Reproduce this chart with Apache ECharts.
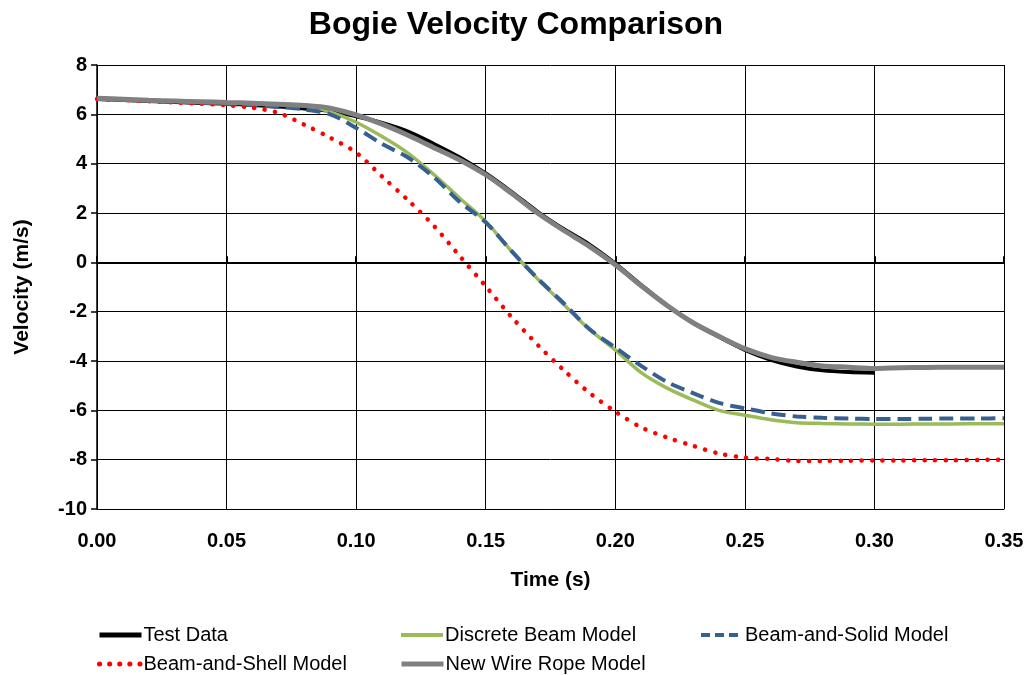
<!DOCTYPE html>
<html>
<head>
<meta charset="utf-8">
<script src="https://cdn.jsdelivr.net/npm/echarts@6/dist/echarts.min.js"></script>
<style>
  html, body { margin: 0; padding: 0; background: #fff; }
  #chart { width: 1032px; height: 675px; }
</style>
</head>
<body>
<div id="chart"></div>
<script>
// time (s)
var times = [0.00, 0.01, 0.02, 0.03, 0.04, 0.05, 0.06, 0.07, 0.08, 0.09,
             0.10, 0.11, 0.12, 0.13, 0.14, 0.15, 0.16, 0.17, 0.18, 0.19,
             0.20, 0.21, 0.22, 0.23, 0.24, 0.25, 0.26, 0.27, 0.28, 0.29,
             0.30, 0.31, 0.32, 0.33, 0.34, 0.35];

// velocity (m/s)
var testData = [6.62, 6.58, 6.54, 6.50, 6.46, 6.43, 6.38, 6.32, 6.24, 6.14,
                5.92, 5.65, 5.30, 4.80, 4.25, 3.60, 2.85, 2.05, 1.35, 0.72,
                -0.05, -0.92, -1.75, -2.45, -3.02, -3.55, -3.95, -4.22, -4.38, -4.45,
                -4.48];
var discreteBeam = [6.62, 6.60, 6.57, 6.54, 6.50, 6.47, 6.44, 6.40, 6.35, 6.10,
                    5.68, 5.10, 4.43, 3.56, 2.60, 1.66, 0.45, -0.67, -1.70, -2.72,
                    -3.55, -4.47, -5.10, -5.58, -6.00, -6.20, -6.38, -6.50, -6.53, -6.55,
                    -6.56, -6.56, -6.55, -6.55, -6.54, -6.54];
var beamSolid = [6.62, 6.59, 6.56, 6.52, 6.47, 6.42, 6.37, 6.30, 6.20, 6.00,
                 5.45, 4.80, 4.25, 3.45, 2.45, 1.62, 0.45, -0.65, -1.65, -2.70,
                 -3.45, -4.20, -4.85, -5.30, -5.70, -5.92, -6.12, -6.25, -6.30, -6.33,
                 -6.35, -6.35, -6.34, -6.33, -6.33, -6.32];
var beamShell = [6.62, 6.58, 6.53, 6.48, 6.43, 6.37, 6.27, 6.06, 5.58, 5.05,
                 4.45, 3.48, 2.52, 1.48, 0.25, -0.97, -2.22, -3.34, -4.36, -5.29,
                 -6.05, -6.69, -7.10, -7.44, -7.75, -7.92, -7.97, -8.05, -8.05, -8.04,
                 -8.03, -8.03, -8.02, -8.02, -8.01, -8.00];
var newWireRope = [6.65, 6.61, 6.57, 6.54, 6.51, 6.48, 6.45, 6.41, 6.36, 6.25,
                   5.98, 5.60, 5.15, 4.65, 4.15, 3.55, 2.80, 2.00, 1.30, 0.65,
                   -0.10, -0.95, -1.75, -2.45, -3.00, -3.50, -3.85, -4.05, -4.20, -4.25,
                   -4.30, -4.27, -4.26, -4.25, -4.25, -4.25];

function pairs(vals) {
  var out = [];
  for (var i = 0; i < vals.length; i++) out.push([times[i], vals[i]]);
  return out;
}

var chart = echarts.init(document.getElementById('chart'));

var fontFam = '"Liberation Sans", Arial, sans-serif';

function legendAt(name, left, top, lineStyle) {
  return {
    left: left,
    top: top,
    itemWidth: 42,
    itemHeight: 14,
    itemGap: 0,
    selectedMode: false,
    textStyle: { fontFamily: fontFam, fontSize: 20, color: '#000', padding: [0, 0, 0, -3] },
    data: [{ name: name, lineStyle: lineStyle, itemStyle: { opacity: 0 } }]
  };
}

chart.setOption({
  animation: false,
  title: {
    text: 'Bogie Velocity Comparison',
    left: 'center',
    top: 4,
    textStyle: { fontFamily: fontFam, fontSize: 32, fontWeight: 'bold', color: '#000' }
  },
  grid: { left: 97, right: 28, top: 65, bottom: 166 },
  legend: [
    legendAt('Test Data', 92, 620, { color: '#000', width: 5, opacity: 1 }),
    legendAt('Discrete Beam Model', 394, 620, { color: '#9BBB59', width: 4, opacity: 1 }),
    legendAt('Beam-and-Solid Model', 694, 620, { color: '#376092', width: 4, type: [9, 5], opacity: 1 }),
    legendAt('Beam-and-Shell Model', 92, 649, { color: '#FF0000', width: 5, type: [0.1, 10], cap: 'round', opacity: 1 }),
    legendAt('New Wire Rope Model', 394, 649, { color: '#808080', width: 5, opacity: 1 })
  ],
  xAxis: [
    {
      type: 'value',
      min: 0,
      max: 0.35,
      interval: 0.05,
      name: 'Time (s)',
      nameLocation: 'middle',
      nameGap: 61,
      nameTextStyle: { fontFamily: fontFam, fontSize: 21, fontWeight: 'bold', color: '#000' },
      axisLine: { onZero: false, lineStyle: { color: '#000', width: 1 } },
      axisTick: { show: false },
      axisLabel: {
        margin: 22,
        fontFamily: fontFam, fontSize: 20, fontWeight: 'bold', color: '#000',
        formatter: function (v) { return v.toFixed(2); }
      },
      splitLine: { show: true, lineStyle: { color: '#000', width: 1 } }
    },
    {
      // the zero line with its ticks
      type: 'value',
      min: 0,
      max: 0.35,
      interval: 0.05,
      axisLine: { onZero: true, lineStyle: { color: '#000', width: 2 } },
      axisTick: { show: true, inside: false, length: 6, lineStyle: { color: '#000', width: 2 } },
      axisLabel: { show: false },
      splitLine: { show: false }
    }
  ],
  yAxis: {
    type: 'value',
    min: -10,
    max: 8,
    interval: 2,
    name: 'Velocity (m/s)',
    nameLocation: 'middle',
    nameGap: 64,
    nameTextStyle: { fontFamily: fontFam, fontSize: 21, fontWeight: 'bold', color: '#000' },
    axisLine: { show: true, lineStyle: { color: '#000', width: 1.5 } },
    axisTick: { show: true, inside: false, length: 6, lineStyle: { color: '#000', width: 1.5 } },
    axisLabel: { margin: 10, fontFamily: fontFam, fontSize: 20, fontWeight: 'bold', color: '#000' },
    splitLine: { show: true, lineStyle: { color: '#000', width: 1 } }
  },
  series: [
    {
      name: 'Test Data', type: 'line', symbol: 'none', smooth: 0.3,
      lineStyle: { color: '#000', width: 4 }, itemStyle: { color: '#000' },
      data: pairs(testData)
    },
    {
      name: 'Discrete Beam Model', type: 'line', symbol: 'none', smooth: 0.3,
      lineStyle: { color: '#9BBB59', width: 3.5 }, itemStyle: { color: '#9BBB59' },
      data: pairs(discreteBeam)
    },
    {
      name: 'Beam-and-Solid Model', type: 'line', symbol: 'none', smooth: 0.3,
      lineStyle: { color: '#376092', width: 4, type: [14, 7] }, itemStyle: { color: '#376092' },
      data: pairs(beamSolid)
    },
    {
      name: 'Beam-and-Shell Model', type: 'line', symbol: 'none', smooth: 0.3,
      lineStyle: { color: '#FF0000', width: 4.5, type: [0.1, 10.4], cap: 'round' }, itemStyle: { color: '#FF0000' },
      data: pairs(beamShell)
    },
    {
      name: 'New Wire Rope Model', type: 'line', symbol: 'none', smooth: 0.3,
      lineStyle: { color: '#808080', width: 5 }, itemStyle: { color: '#808080' },
      data: pairs(newWireRope)
    }
  ]
});
</script>
</body>
</html>
